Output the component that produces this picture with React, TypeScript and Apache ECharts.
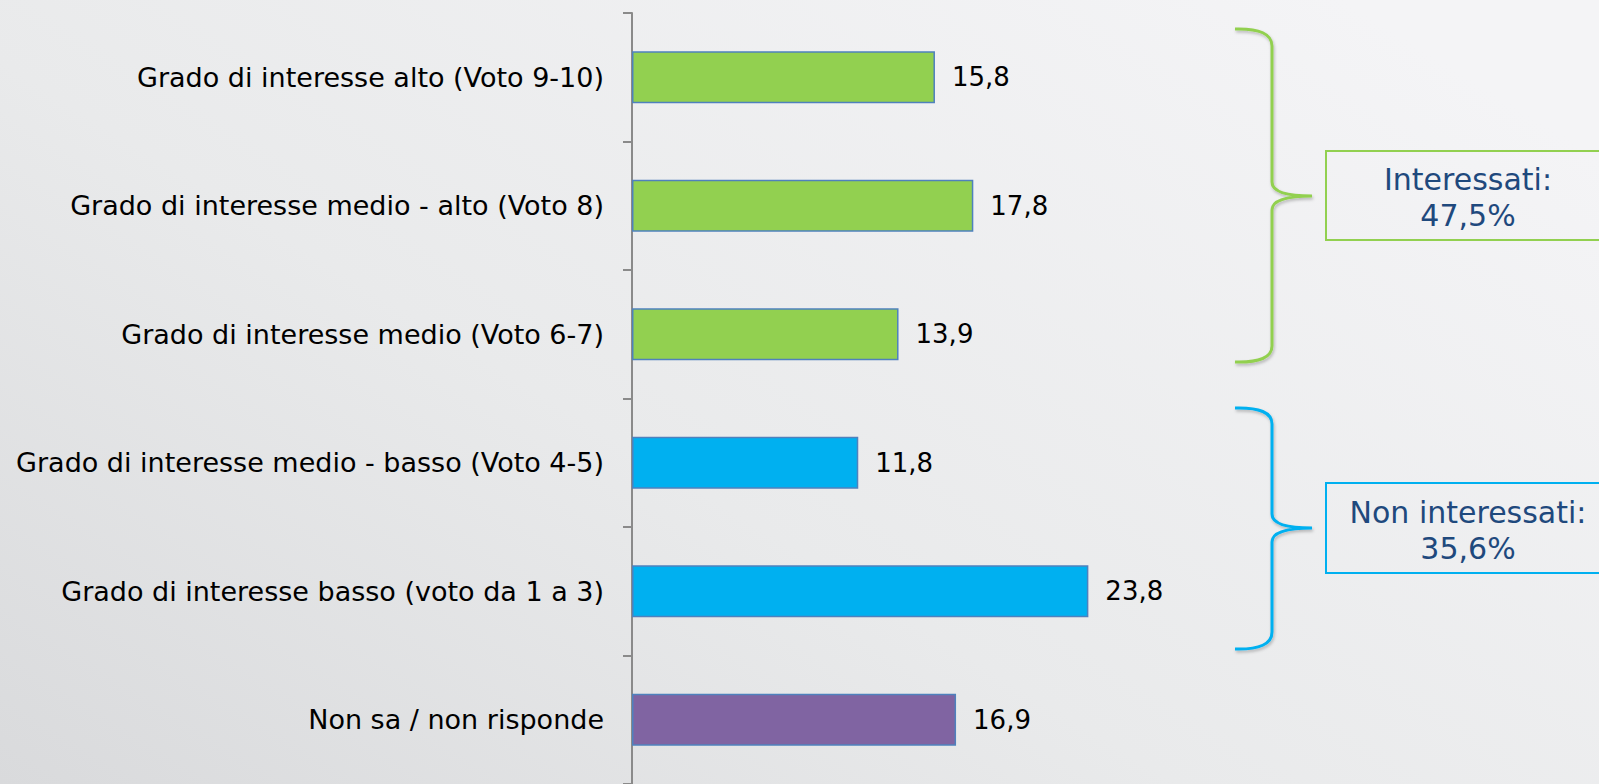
import React, { useEffect, useRef } from "react";
import * as echarts from "echarts";

const categories = [
  "Grado di interesse alto (Voto 9-10)",
  "Grado di interesse medio - alto (Voto 8)",
  "Grado di interesse medio (Voto 6-7)",
  "Grado di interesse medio - basso (Voto 4-5)",
  "Grado di interesse basso (voto da 1 a 3)",
  "Non sa / non risponde",
];
const values = [15.8, 17.8, 13.9, 11.8, 23.8, 16.9];
const barColors = ["#92D050", "#92D050", "#92D050", "#00B0F0", "#00B0F0", "#8064A2"];
const groupLabels = ["Interessati:\n47,5%", "Non interessati:\n35,6%"];

const FONT = "DejaVu Sans";

export default function App() {
  const ref = useRef<HTMLDivElement>(null);
  useEffect(() => {
    if (!ref.current) return;
    const greenBrace =
      "M1235,29 Q1272,28 1272,46 L1272,182 Q1272,196 1312,196 Q1272,196 1272,210 L1272,346 Q1272,363 1235,362";
    const blueBrace =
      "M1235,408 Q1272,407 1272,424 L1272,514 Q1272,528 1312,528 Q1272,528 1272,542 L1272,632 Q1272,650 1235,649";
    echarts.graphic.registerShape("braceGreen", echarts.graphic.extendPath(greenBrace, {}));
    echarts.graphic.registerShape("braceBlue", echarts.graphic.extendPath(blueBrace, {}));
    const chart = echarts.init(ref.current, undefined, { renderer: "svg" });
    chart.setOption({
      animation: false,
      backgroundColor: new echarts.graphic.LinearGradient(0, 1, 1, 0.2, [
        { offset: 0, color: "#d9dadc" },
        { offset: 0.45, color: "#e9eaeb" },
        { offset: 1, color: "#f4f4f6" },
      ]),
      grid: { left: 632, top: 13, width: 767, height: 772, containLabel: false },
      xAxis: { type: "value", min: 0, max: 40, show: false },
      yAxis: {
        type: "category",
        data: categories,
        inverse: true,
        axisLine: { show: true, lineStyle: { color: "#8a8a8a", width: 2 } },
        axisTick: { show: true, length: 9, alignWithLabel: false, lineStyle: { color: "#8a8a8a", width: 2 } },
        axisLabel: { color: "#000", fontFamily: FONT, fontSize: 27, margin: 28 },
        splitLine: { show: false },
      },
      series: [
        {
          type: "bar",
          data: values.map((v, i) => ({
            value: v,
            itemStyle: { color: barColors[i], borderColor: "#4F81BD", borderWidth: 1.5 },
          })),
          barWidth: 52,
          label: {
            show: true,
            position: "right",
            distance: 17,
            color: "#000",
            fontFamily: FONT,
            fontSize: 26,
            formatter: (p: any) => Number(p.value).toFixed(1).replace(".", ","),
          },
        },
      ],
      graphic: [
        {
          type: "braceGreen",
          x: 0,
          y: 0,
          style: { fill: "none", stroke: "#92D050", lineWidth: 3, shadowBlur: 3, shadowColor: "rgba(0,0,0,0.25)", shadowOffsetX: 1, shadowOffsetY: 2 },
        },
        {
          type: "braceBlue",
          x: 0,
          y: 0,
          style: { fill: "none", stroke: "#00B0F0", lineWidth: 3, shadowBlur: 3, shadowColor: "rgba(0,0,0,0.25)", shadowOffsetX: 1, shadowOffsetY: 2 },
        },
        {
          type: "rect",
          shape: { x: 1326, y: 151, width: 284, height: 89 },
          style: { fill: "none", stroke: "#92D050", lineWidth: 2 },
        },
        {
          type: "text",
          x: 1468,
          y: 197,
          style: {
            text: groupLabels[0],
            fill: "#1F497D",
            font: `30px "${FONT}"`,
            align: "center",
            verticalAlign: "middle",
            lineHeight: 36,
          },
        },
        {
          type: "rect",
          shape: { x: 1326, y: 483, width: 284, height: 90 },
          style: { fill: "none", stroke: "#00B0F0", lineWidth: 2 },
        },
        {
          type: "text",
          x: 1468,
          y: 530,
          style: {
            text: groupLabels[1],
            fill: "#1F497D",
            font: `30px "${FONT}"`,
            align: "center",
            verticalAlign: "middle",
            lineHeight: 36,
          },
        },
      ],
    });
    return () => chart.dispose();
  }, []);
  return (
    <div
      ref={ref}
      style={{ position: "fixed", left: 0, top: 0, width: 1599, height: 784 }}
    />
  );
}
